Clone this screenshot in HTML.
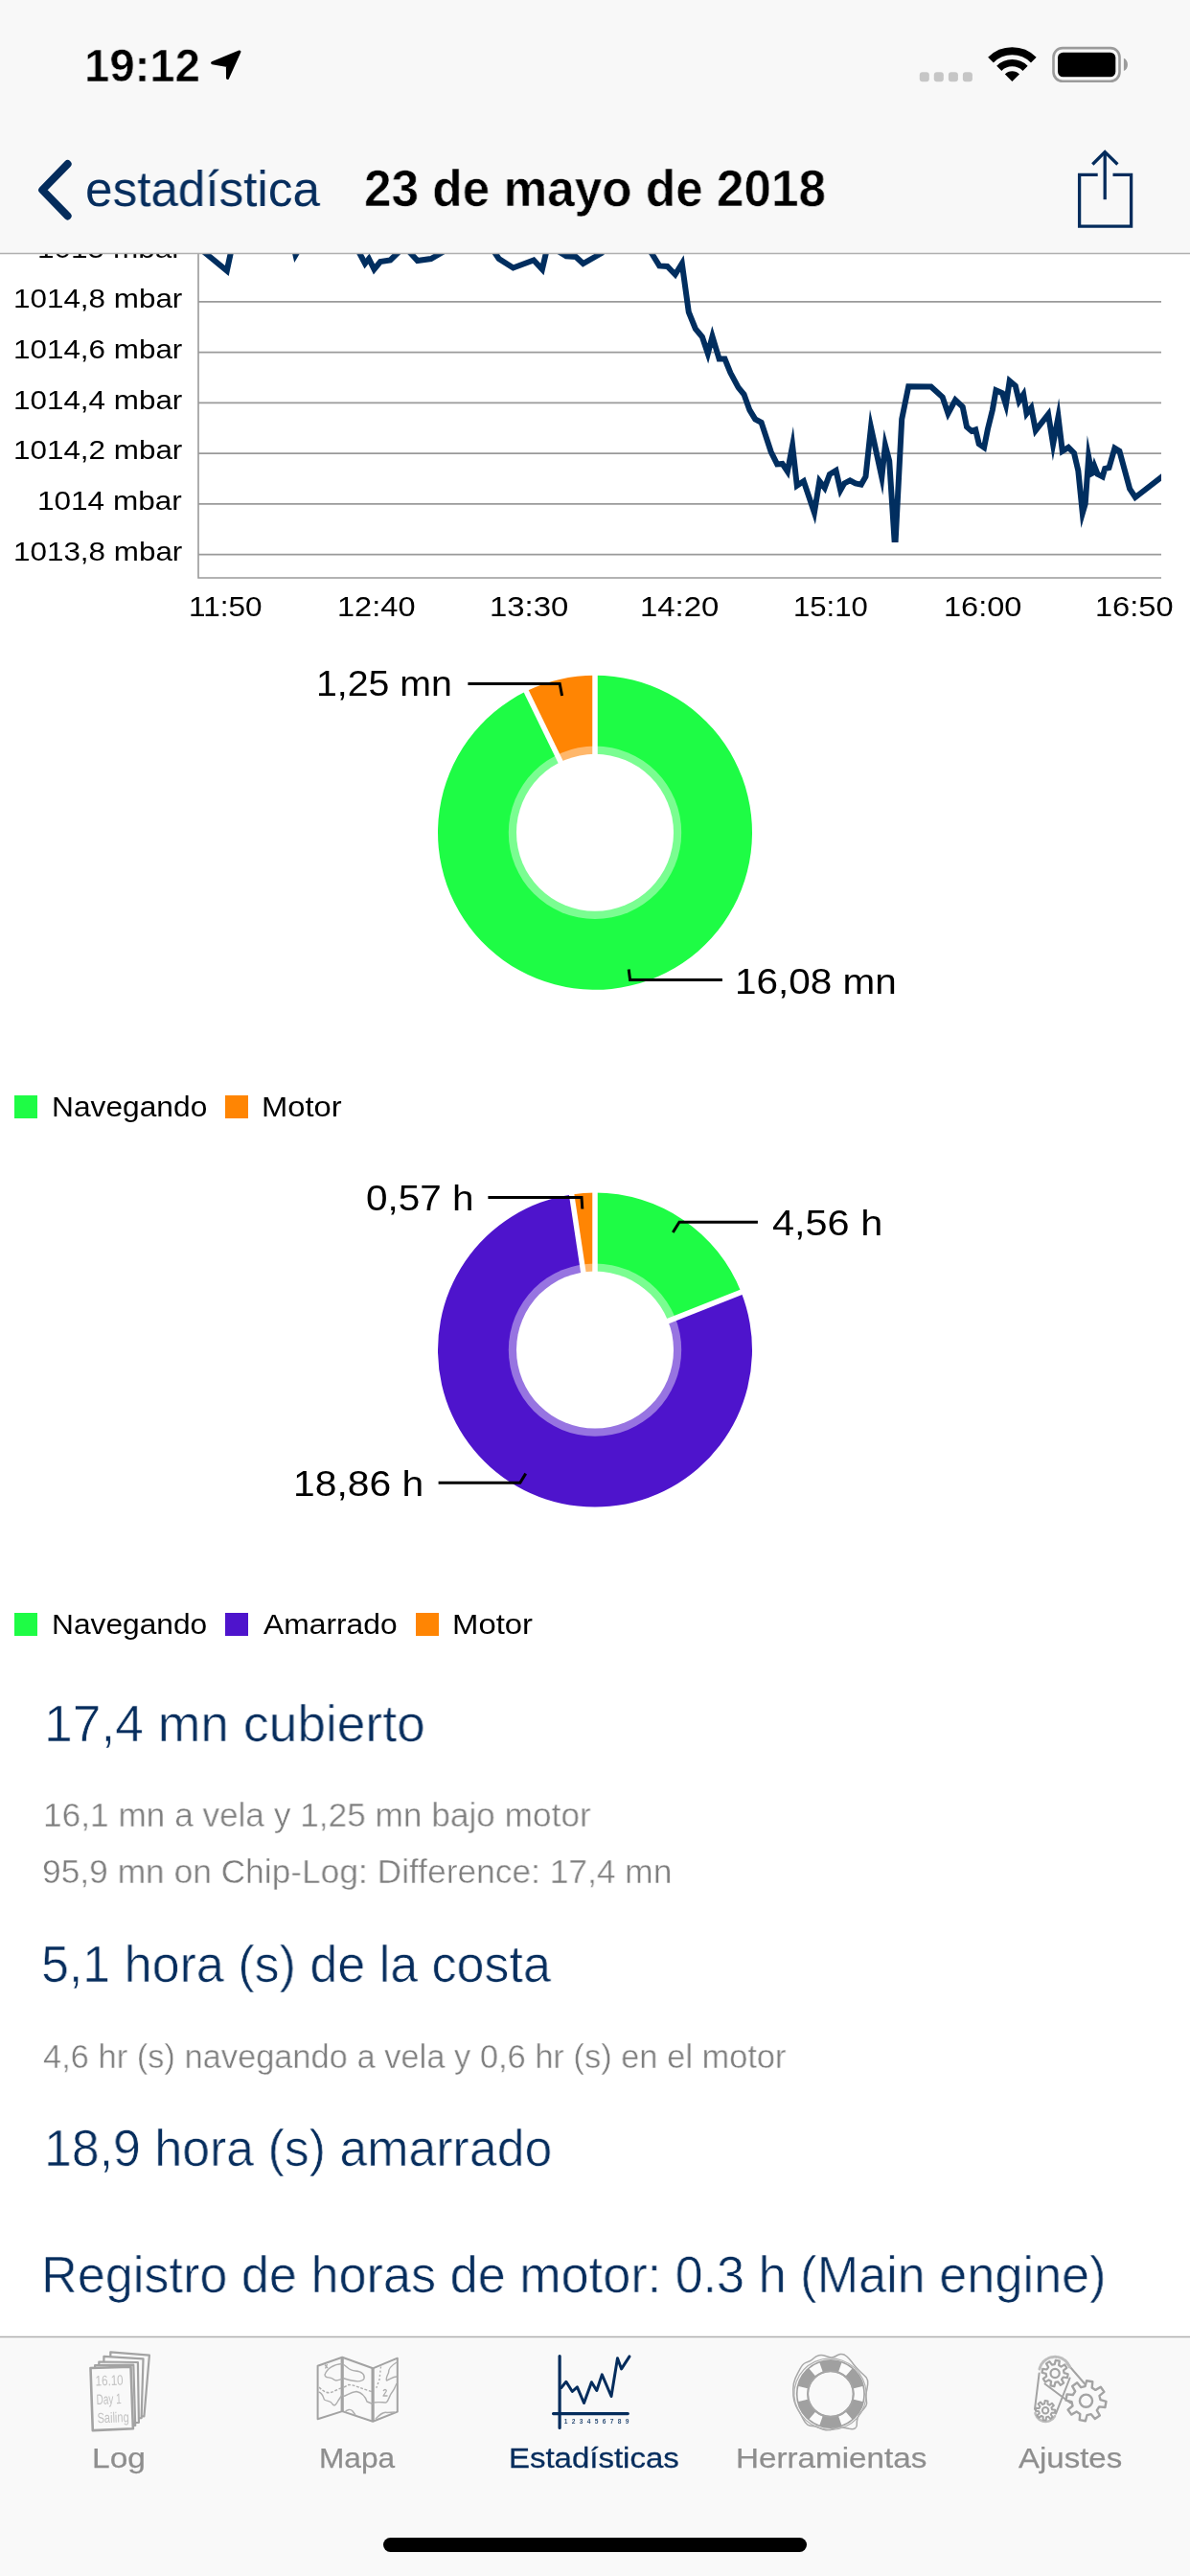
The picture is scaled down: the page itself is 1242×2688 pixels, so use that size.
<!DOCTYPE html>
<html><head><meta charset="utf-8"><title>Estadísticas</title>
<style>
html,body{margin:0;padding:0;background:#fff}
#root{position:relative;width:1242px;height:2688px;overflow:hidden;background:#fff;font-family:"Liberation Sans",sans-serif}
.abs{position:absolute;display:block}
svg.abs{will-change:transform}
.t{position:absolute;white-space:pre;line-height:1;transform-origin:0 0;will-change:transform}
.sq{position:absolute;width:24px;height:24px}
</style></head><body><div id="root">
<svg class="abs" style="left:0;top:0" width="1242" height="680" viewBox="0 0 1242 680">
<line x1="207" y1="314.9" x2="1212" y2="314.9" stroke="#9a9a9a" stroke-width="1.6"/>
<line x1="207" y1="367.6" x2="1212" y2="367.6" stroke="#9a9a9a" stroke-width="1.6"/>
<line x1="207" y1="420.4" x2="1212" y2="420.4" stroke="#9a9a9a" stroke-width="1.6"/>
<line x1="207" y1="473.1" x2="1212" y2="473.1" stroke="#9a9a9a" stroke-width="1.6"/>
<line x1="207" y1="525.9" x2="1212" y2="525.9" stroke="#9a9a9a" stroke-width="1.6"/>
<line x1="207" y1="578.6" x2="1212" y2="578.6" stroke="#9a9a9a" stroke-width="1.6"/>
<path d="M207 250V603H1212" fill="none" stroke="#9a9a9a" stroke-width="1.6"/>
<clipPath id="cc"><rect x="206" y="0" width="1006" height="680"/></clipPath>
<polyline clip-path="url(#cc)" fill="none" stroke="#012e5f" stroke-width="6" stroke-linejoin="miter" stroke-miterlimit="10" points="207,258 236.8,282.5 242.5,256 300,250 306,255 308.5,266 315,255 320,250 366,250 372,258 381,275 385,270 390.5,281 397,273 407.4,271.5 416,263 419.5,254 423,258 435.7,272 449.8,270 462,263 470,252 505,250 514,260 520.7,270 535.6,279.5 557,271.5 565.9,281 572,255 576,258 591,267.4 601,268 608.6,275 628,264 640,250 672,252 680,264 688.2,277.4 696.5,278 704.7,286.5 711.8,275 718.8,325.6 725.9,343.2 732.9,351.5 738.8,369 743.5,351 750.6,374.5 756.5,374.5 762.4,389.1 770.6,404.4 776.5,411.5 782.4,427.9 788.2,437.4 794.6,440.9 804.7,471.5 811.1,484.4 816.5,483.9 821.9,492 827.1,465 831.8,506.8 838.8,502.1 849.9,535 855.3,502.1 860.7,509.1 865.9,495 872.5,491 877.2,511.5 881.2,504.4 887.1,501.4 892.9,504.4 898.8,505.6 903.5,497.4 909,446 920.3,498 923.9,464.5 928.2,480.9 933.5,563 934.7,563 941.2,437.4 948.2,403.2 971.7,403.5 983.7,414.4 989.5,431.5 997.1,417.4 1004.7,424.5 1009.0,445.4 1014.1,449.9 1018.2,448.4 1021.7,463.1 1027.1,466.9 1030.9,447.9 1035.9,427.6 1039.5,407.3 1046.1,410.3 1049.9,422.5 1053.7,397.5 1059.8,402.7 1063.6,418.5 1068.2,411.5 1071.5,431.5 1076.3,425.5 1080.9,449.2 1094.1,432.2 1099.1,463.5 1104.5,435 1108.8,470.7 1115.1,466.9 1121.0,472.8 1125.3,491 1129.8,535.5 1132.7,525.6 1136.2,476.5 1139.7,494 1141.0,493.3 1142.5,487 1145.6,494.8 1150.7,497.4 1153.2,489 1157.5,488 1163.4,467.7 1168.4,470.7 1179.1,510.1 1184.9,519 1216,494.9"/>
</svg>
<svg class="abs" style="left:0;top:680px" width="1242" height="420" viewBox="0 680 1242 420">
<path d="M621.00 704.80A164 164 0 1 1 549.19 721.36L585.53 795.98A81 81 0 1 0 621.00 787.80Z" fill="#1efc45"/>
<path d="M549.19 721.36A164 164 0 0 1 621.00 704.80L621.00 787.80A81 81 0 0 0 585.53 795.98Z" fill="#ff8503"/>
<line x1="621" y1="868.8" x2="621.00" y2="702.80" stroke="#fff" stroke-width="5.5"/>
<line x1="621" y1="868.8" x2="548.32" y2="719.56" stroke="#fff" stroke-width="5.5"/>
<circle cx="621" cy="868.8" r="90.2" fill="#fff" fill-opacity="0.41"/>
<circle cx="621" cy="868.8" r="82" fill="#fff"/>
<polyline points="488.4,713.4 584.2,713.4 586.6,726" fill="none" stroke="#000" stroke-width="3"/>
<polyline points="753.9,1022.6 657.6,1022.6 656.2,1011.5" fill="none" stroke="#000" stroke-width="3"/>
</svg>
<svg class="abs" style="left:0;top:1210px" width="1242" height="420" viewBox="0 1210 1242 420">
<path d="M621.00 1244.60A164 164 0 0 1 773.51 1348.30L696.33 1378.82A81 81 0 0 0 621.00 1327.60Z" fill="#1efc45"/>
<path d="M773.51 1348.30A164 164 0 1 1 596.61 1246.42L608.95 1328.50A81 81 0 1 0 696.33 1378.82Z" fill="#4e14cc"/>
<path d="M596.61 1246.42A164 164 0 0 1 621.00 1244.60L621.00 1327.60A81 81 0 0 0 608.95 1328.50Z" fill="#ff8503"/>
<line x1="621" y1="1408.6" x2="621.00" y2="1242.60" stroke="#fff" stroke-width="5.5"/>
<line x1="621" y1="1408.6" x2="775.37" y2="1347.57" stroke="#fff" stroke-width="5.5"/>
<line x1="621" y1="1408.6" x2="596.31" y2="1244.45" stroke="#fff" stroke-width="5.5"/>
<circle cx="621" cy="1408.6" r="90.2" fill="#fff" fill-opacity="0.41"/>
<circle cx="621" cy="1408.6" r="82" fill="#fff"/>
<polyline points="509.4,1249.5 607,1249.5 607.8,1261.5" fill="none" stroke="#000" stroke-width="3"/>
<polyline points="790.9,1275.3 709,1275.3 702.3,1286" fill="none" stroke="#000" stroke-width="3"/>
<polyline points="457.6,1547.3 542.8,1547.3 548.7,1537.6" fill="none" stroke="#000" stroke-width="3"/>
</svg>
<div class="sq" style="left:15px;top:1143px;background:#1efc45"></div>
<div class="sq" style="left:234.5px;top:1143px;background:#ff8503"></div>
<div class="sq" style="left:15px;top:1683px;background:#1efc45"></div>
<div class="sq" style="left:234.5px;top:1683px;background:#4e14cc"></div>
<div class="sq" style="left:433.5px;top:1683px;background:#ff8503"></div>
<div class="t" style="left:39.39px;top:244.57px;font-size:28.5px;font-weight:400;color:#000;transform:scaleX(1.1060);">1015 mbar</div>
<svg class="abs" style="left:0;top:0" width="1242" height="270" viewBox="0 0 1242 270"><rect x="0" y="0" width="1242" height="264.4" fill="#f8f8f8"/><line x1="0" y1="264.4" x2="1242" y2="264.4" stroke="#b0b0b0" stroke-width="1.5"/></svg>
<svg class="abs" style="left:0;top:2430px" width="1242" height="258" viewBox="0 2430 1242 258"><rect x="0" y="2438.4" width="1242" height="250" fill="#f9f9f9"/><line x1="0" y1="2438.4" x2="1242" y2="2438.4" stroke="#b0b0b0" stroke-width="1.5"/></svg>
<div class="abs" style="left:400px;top:2648px;width:442px;height:15px;border-radius:8px;background:#000"></div>
<svg class="abs" style="left:0;top:0" width="1242" height="264" viewBox="0 0 1242 264">
<path d="M250 54L221.6 65.7L237.4 68.4L237.5 81.6Z" fill="#000" stroke="#000" stroke-width="3" stroke-linejoin="round"/>
<g fill="#c6c6c6"><rect x="959.8" y="75.2" width="10" height="10" rx="3"/><rect x="974.8" y="75.2" width="10" height="10" rx="3"/><rect x="989.9" y="75.2" width="10" height="10" rx="3"/><rect x="1004.9" y="75.2" width="10" height="10" rx="3"/></g>
<clipPath id="wf"><path d="M1056.4 85L1020 48.6V40H1093V48.6Z"/></clipPath>
<g clip-path="url(#wf)" fill="none" stroke="#000"><circle cx="1056.4" cy="85" r="31.7" stroke-width="8"/><circle cx="1056.4" cy="85" r="19.3" stroke-width="7.2"/><circle cx="1056.4" cy="85" r="10.7" fill="#000" stroke="none"/></g>
<rect x="1099.5" y="50.1" width="69" height="34.7" rx="9.5" fill="none" stroke="#9b9b9b" stroke-width="2.6"/>
<rect x="1104" y="54.7" width="60.3" height="25.6" rx="5.5" fill="#000"/>
<path d="M1172.9 60.7C1178.3 62.6 1178.3 72.2 1172.9 74Z" fill="#9b9b9b"/>
<polyline points="70.6,171.1 44.2,198.3 70.6,225.4" fill="none" stroke="#042c5c" stroke-width="8" stroke-linecap="round" stroke-linejoin="round"/>
<g fill="none" stroke="#042c5c" stroke-width="3.3"><path d="M1145.7 182.4H1126.6V236.1H1180.6V182.4H1161.5"/><path d="M1153.2 208.2V159"/><path d="M1140.3 171.5L1153.2 158.6L1166.4 171.5"/></g>
</svg>
<svg class="abs" style="left:0;top:2440px" width="1242" height="110" viewBox="0 2440 1242 110">
<g fill="#f9f9f9" stroke="#a3a3a3" stroke-width="2.2" stroke-linejoin="round">
<path d="M115.3 2454.3L155.9 2457.6L150.4 2521.3L115.3 2521Z"/>
<path d="M108.4 2458.9L149.5 2461.3L147.6 2523.2L108.4 2524Z"/>
<path d="M103.3 2464.5L143.9 2465L144.9 2527.8L103.3 2528Z"/>
<path d="M99.1 2468.2L139.3 2467.7L141.2 2531L99.1 2532Z"/>
<path d="M94.5 2471L136.5 2469.6L138.9 2534.3L96.8 2536.1Z" stroke-width="2.6"/>
</g>
<g font-family="Liberation Sans, sans-serif" font-size="15" fill="#c2c2c2" transform="rotate(-2 100 2500)"><text x="100.2" y="2489.6" textLength="29" lengthAdjust="spacingAndGlyphs">16.10</text><text x="100.5" y="2509" textLength="26" lengthAdjust="spacingAndGlyphs">Day 1</text><text x="100.8" y="2528.4" textLength="33" lengthAdjust="spacingAndGlyphs">Sailing</text></g>
<g fill="none" stroke="#a3a3a3" stroke-linejoin="round">
<path d="M331.6 2468.7L357.2 2459.7L389.1 2471.3L414.8 2460.7V2516.6L389.1 2526.7L357.2 2516.1L331.6 2524.2Z" stroke-width="2"/>
<path d="M357.2 2459.7V2516.1M389.1 2471.3V2526.7" stroke-width="3.2"/>
<g stroke-width="1.4" stroke="#aeaeae">
<path d="M357 2466.5C348 2467 341 2472 339 2478C339 2482 344 2480 347 2482C350 2485 352 2484 357 2482.5"/>
<path d="M358 2467C363 2470 364 2474 371 2474C378 2474.5 381 2478 380 2482C378 2486 370 2485.500 358 2481.500"/>
<path d="M332.500 2496C337 2497 337 2501 338.500 2504C342 2506 345 2505 347 2508.500C349 2511.500 351 2509 353 2505L357 2499"/>
<path d="M358 2500.500C362 2500 365 2496 372 2495.500C379 2497 382 2503 383 2506L389 2508.500"/>
<path d="M390 2507C395 2506 399 2507 403 2507C406 2505 406 2500 409 2496.500C412 2493 412.500 2490 414 2487"/>
<path d="M414 2465C409 2468 405 2471 405.500 2476C404 2479 402.500 2482 403.500 2484C407 2483 410 2480 414 2480"/>
<path d="M333 2491C338 2496 343 2499 350 2494.500L357 2491.500M359 2491L364 2488.500C370 2488.500 378 2493 388 2495.500" stroke-dasharray="3 1.6"/>
<path d="M397.500 2469.500L396 2483L392.500 2492.500" stroke-dasharray="2 2.2"/>
<path d="M360 2517C362 2514 366 2513.500 368 2516L371 2520M392 2524C396 2520 400 2516 404 2517.500L412 2517"/>
<path d="M339 2467.500L342 2471M341.500 2467L339.500 2471.500M400 2495C401.500 2492.500 404 2493.500 403 2495.500L400 2500H404.500" stroke-width="1.3"/>
</g></g>
<g fill="none" stroke="#042c5c" stroke-width="3.2" stroke-linecap="round" stroke-linejoin="round">
<path d="M584.1 2458.5V2533.500M577.500 2518.600H655.300"/>
<path d="M585.8 2491.500L590.9 2485.3L597.3 2495.5L602.4 2490.8L609.5 2507.5L617.4 2485.7L622.8 2494.5L628.3 2477.9L638 2500.5L644.5 2460.8L648.6 2471.9L657 2458.900" stroke-width="3"/>
</g>
<text x="588.8" y="2529" font-family="Liberation Sans, sans-serif" font-weight="700" font-size="6.6" fill="#042c5c" fill-opacity="0.85" textLength="67.5" lengthAdjust="spacing">123456789</text>
<circle cx="866.9" cy="2498.0" r="29.40" fill="none" stroke="#a0a0a0" stroke-width="13.20"/>
<path d="M900.3 2490.0A34.4 34.4 0 0 1 900.3 2506.0L891.0 2503.8A24.8 24.8 0 0 0 891.0 2492.2ZM889.2 2524.2A34.4 34.4 0 0 1 878.4 2530.4L875.2 2521.4A24.8 24.8 0 0 0 883.0 2516.9ZM855.4 2530.4A34.4 34.4 0 0 1 844.6 2524.2L850.8 2516.9A24.8 24.8 0 0 0 858.6 2521.4ZM833.5 2506.0A34.4 34.4 0 0 1 833.5 2490.0L842.8 2492.2A24.8 24.8 0 0 0 842.8 2503.8ZM844.6 2471.8A34.4 34.4 0 0 1 855.4 2465.6L858.6 2474.6A24.8 24.8 0 0 0 850.8 2479.1ZM878.4 2465.6A34.4 34.4 0 0 1 889.2 2471.8L883.0 2479.1A24.8 24.8 0 0 0 875.2 2474.6Z" fill="#fbfbfb"/>
<circle cx="866.9" cy="2498.0" r="23.8" fill="none" stroke="#a6a6a6" stroke-width="1.6"/>
<path d="M845.1 2463.8Q847.0 2463.1 849.3 2460.8Q851.6 2458.5 854.8 2457.8Q858.1 2457.1 861.8 2458.5Q865.5 2459.9 867.8 2459.9Q870.1 2459.9 872.4 2458.5Q874.7 2457.1 877.0 2456.6Q879.3 2456.2 881.6 2457.3Q883.9 2458.5 886.2 2461.3Q888.6 2464.0 890.9 2467.3Q893.2 2470.5 897.8 2474.7Q902.4 2478.8 904.3 2481.1Q906.1 2483.4 905.7 2487.6Q905.2 2491.8 904.3 2495.9Q903.3 2500.1 904.3 2504.2Q905.2 2508.4 903.8 2510.7Q902.4 2513.0 899.2 2516.2Q896.0 2519.5 895.0 2523.2Q894.1 2526.9 894.3 2529.6Q894.6 2532.4 892.5 2533.8Q890.4 2535.2 886.2 2534.3Q882.1 2533.3 878.4 2532.9Q874.7 2532.4 870.1 2534.3Q865.5 2536.1 861.8 2535.7Q858.1 2535.2 854.8 2533.3Q851.6 2531.5 848.4 2531.5Q845.1 2531.5 842.8 2530.1Q840.5 2528.7 838.2 2524.1Q835.9 2519.5 833.1 2514.9Q830.3 2510.2 828.9 2505.2Q827.6 2500.1 827.8 2493.1Q828.0 2486.2 830.1 2481.6Q832.2 2477.0 835.0 2471.9Q837.7 2466.8 840.5 2465.6Q843.3 2464.5 845.1 2463.8Z" fill="none" stroke="#a8a8a8" stroke-width="1.5"/>
<ellipse cx="866.6" cy="2498.3" rx="37.6" ry="37.2" fill="none" stroke="#b0b0b0" stroke-width="1.2" transform="rotate(20 866.9 2498.0)"/>
<g fill="none" stroke="#a3a3a3" stroke-width="2.2" stroke-linejoin="round" stroke-linecap="round">
<path d="M1084.6 2476.5L1080 2513.9M1116.6 2481.500L1102 2518.600M1113.500 2466L1133 2488.500M1090.500 2487.500L1117.300 2507.500" stroke-width="2"/>
<path d="M1085 2472A16.5 16.5 0 0 1 1116.500 2470" stroke-width="3" stroke="#bdbdbd" stroke-dasharray="2.2 1.4"/>
<path d="M1080.500 2518A11 11 0 0 0 1101 2521" stroke-width="2.6" stroke="#bdbdbd" stroke-dasharray="2.2 1.4"/>
<path d="M1110.5 2476.1 L1114.7 2477.2 L1113.9 2481.2 L1109.6 2480.5 L1108.0 2482.9 L1110.2 2486.6 L1106.8 2488.8 L1104.3 2485.4 L1101.5 2485.9 L1100.4 2490.1 L1096.4 2489.3 L1097.1 2485.0 L1094.7 2483.4 L1091.0 2485.6 L1088.8 2482.2 L1092.2 2479.7 L1091.7 2476.9 L1087.5 2475.8 L1088.3 2471.8 L1092.6 2472.5 L1094.2 2470.1 L1092.0 2466.4 L1095.4 2464.2 L1097.9 2467.6 L1100.7 2467.1 L1101.8 2462.9 L1105.8 2463.7 L1105.1 2468.0 L1107.5 2469.6 L1111.2 2467.4 L1113.4 2470.8 L1110.0 2473.3Z"/><circle cx="1101.1" cy="2476.5" r="4.600"/>
<path d="M1098.0 2514.3 L1101.3 2514.8 L1101.0 2517.8 L1097.7 2517.7 L1096.7 2519.5 L1098.7 2522.1 L1096.3 2524.1 L1094.1 2521.6 L1092.1 2522.2 L1091.6 2525.5 L1088.6 2525.2 L1088.7 2521.9 L1086.9 2520.9 L1084.3 2522.9 L1082.3 2520.5 L1084.8 2518.3 L1084.2 2516.3 L1080.9 2515.8 L1081.2 2512.8 L1084.5 2512.9 L1085.5 2511.1 L1083.5 2508.5 L1085.9 2506.5 L1088.1 2509.0 L1090.1 2508.4 L1090.6 2505.1 L1093.6 2505.4 L1093.5 2508.7 L1095.3 2509.7 L1097.9 2507.7 L1099.9 2510.1 L1097.4 2512.3Z" stroke-width="2"/><circle cx="1091.1" cy="2515.3" r="3.200" stroke-width="2"/>
<path d="M1148.5 2504.2 L1154.5 2505.8 L1153.4 2512.0 L1147.2 2511.4 L1144.8 2515.1 L1147.9 2520.5 L1142.8 2524.1 L1138.8 2519.2 L1134.5 2520.2 L1132.9 2526.2 L1126.7 2525.1 L1127.3 2518.9 L1123.6 2516.5 L1118.2 2519.6 L1114.6 2514.5 L1119.5 2510.5 L1118.5 2506.2 L1112.5 2504.6 L1113.6 2498.4 L1119.8 2499.0 L1122.2 2495.3 L1119.1 2489.9 L1124.2 2486.3 L1128.2 2491.2 L1132.5 2490.2 L1134.1 2484.2 L1140.3 2485.3 L1139.7 2491.5 L1143.4 2493.9 L1148.8 2490.8 L1152.4 2495.9 L1147.5 2499.9Z" stroke-width="2.400"/><circle cx="1133.5" cy="2505.2" r="6.600" stroke-width="2.400"/>
</g>
</svg>
<div class="t" style="left:88.27px;top:43.64px;font-size:48.5px;font-weight:700;color:#000;transform:scaleX(0.9756);-webkit-text-stroke:0.6px #f8f8f8;">19:12</div>
<div class="t" style="left:88.91px;top:172.11px;font-size:51.5px;font-weight:400;color:#062d5d;transform:scaleX(0.9951);">estadística</div>
<div class="t" style="left:379.98px;top:170.31px;font-size:53.5px;font-weight:700;color:#000;transform:scaleX(0.9592);-webkit-text-stroke:0.6px #f8f8f8;">23 de mayo de 2018</div>
<div class="t" style="left:13.50px;top:297.27px;font-size:28.5px;font-weight:400;color:#000;transform:scaleX(1.1019);">1014,8 mbar</div>
<div class="t" style="left:13.50px;top:349.97px;font-size:28.5px;font-weight:400;color:#000;transform:scaleX(1.1019);">1014,6 mbar</div>
<div class="t" style="left:13.50px;top:402.77px;font-size:28.5px;font-weight:400;color:#000;transform:scaleX(1.1019);">1014,4 mbar</div>
<div class="t" style="left:13.50px;top:455.47px;font-size:28.5px;font-weight:400;color:#000;transform:scaleX(1.1019);">1014,2 mbar</div>
<div class="t" style="left:39.39px;top:508.27px;font-size:28.5px;font-weight:400;color:#000;transform:scaleX(1.1060);">1014 mbar</div>
<div class="t" style="left:13.50px;top:560.97px;font-size:28.5px;font-weight:400;color:#000;transform:scaleX(1.1019);">1013,8 mbar</div>
<div class="t" style="left:196.90px;top:619.39px;font-size:28.6px;font-weight:400;color:#000;transform:scaleX(1.1015);">11:50</div>
<div class="t" style="left:351.72px;top:619.39px;font-size:28.6px;font-weight:400;color:#000;transform:scaleX(1.1391);">12:40</div>
<div class="t" style="left:510.60px;top:619.39px;font-size:28.6px;font-weight:400;color:#000;transform:scaleX(1.1507);">13:30</div>
<div class="t" style="left:667.70px;top:619.39px;font-size:28.6px;font-weight:400;color:#000;transform:scaleX(1.1507);">14:20</div>
<div class="t" style="left:827.53px;top:619.39px;font-size:28.6px;font-weight:400;color:#000;transform:scaleX(1.0870);">15:10</div>
<div class="t" style="left:985.42px;top:619.39px;font-size:28.6px;font-weight:400;color:#000;transform:scaleX(1.1377);">16:00</div>
<div class="t" style="left:1143.32px;top:619.39px;font-size:28.6px;font-weight:400;color:#000;transform:scaleX(1.1391);">16:50</div>
<div class="t" style="left:329.96px;top:695.47px;font-size:37.6px;font-weight:400;color:#000;transform:scaleX(1.0450);">1,25 mn</div>
<div class="t" style="left:767.37px;top:1005.57px;font-size:37.6px;font-weight:400;color:#000;transform:scaleX(1.0768);">16,08 mn</div>
<div class="t" style="left:53.80px;top:1140.34px;font-size:30.2px;font-weight:400;color:#000;transform:scaleX(1.0510);">Navegando</div>
<div class="t" style="left:273.13px;top:1140.34px;font-size:30.2px;font-weight:400;color:#000;transform:scaleX(1.0853);">Motor</div>
<div class="t" style="left:382.02px;top:1232.27px;font-size:37.6px;font-weight:400;color:#000;transform:scaleX(1.0762);">0,57 h</div>
<div class="t" style="left:805.70px;top:1258.07px;font-size:37.6px;font-weight:400;color:#000;transform:scaleX(1.1030);">4,56 h</div>
<div class="t" style="left:306.44px;top:1529.77px;font-size:37.6px;font-weight:400;color:#000;transform:scaleX(1.0858);">18,86 h</div>
<div class="t" style="left:53.80px;top:1680.34px;font-size:30.2px;font-weight:400;color:#000;transform:scaleX(1.0503);">Navegando</div>
<div class="t" style="left:275.00px;top:1680.34px;font-size:30.2px;font-weight:400;color:#000;transform:scaleX(1.0534);">Amarrado</div>
<div class="t" style="left:471.52px;top:1680.34px;font-size:30.2px;font-weight:400;color:#000;transform:scaleX(1.0893);">Motor</div>
<div class="t" style="left:45.91px;top:1771.51px;font-size:53.5px;font-weight:400;color:#062d5d;transform:scaleX(0.9982);-webkit-text-stroke:0.7px #fff;">17,4 mn cubierto</div>
<div class="t" style="left:44.62px;top:1876.55px;font-size:35.5px;font-weight:400;color:#7d7d7d;transform:scaleX(0.9921);-webkit-text-stroke:0.45px #fff;">16,1 mn a vela y 1,25 mn bajo motor</div>
<div class="t" style="left:44.41px;top:1936.35px;font-size:35.5px;font-weight:400;color:#7d7d7d;transform:scaleX(0.9953);-webkit-text-stroke:0.45px #fff;">95,9 mn on Chip-Log: Difference: 17,4 mn</div>
<div class="t" style="left:43.48px;top:2023.21px;font-size:53.5px;font-weight:400;color:#062d5d;transform:scaleX(0.9719);-webkit-text-stroke:0.7px #fff;">5,1 hora (s) de la costa</div>
<div class="t" style="left:44.63px;top:2128.65px;font-size:35.5px;font-weight:400;color:#7d7d7d;transform:scaleX(0.9704);-webkit-text-stroke:0.45px #fff;">4,6 hr (s) navegando a vela y 0,6 hr (s) en el motor</div>
<div class="t" style="left:45.82px;top:2215.01px;font-size:53.5px;font-weight:400;color:#062d5d;transform:scaleX(0.9691);-webkit-text-stroke:0.7px #fff;">18,9 hora (s) amarrado</div>
<div class="t" style="left:43.32px;top:2346.51px;font-size:53.5px;font-weight:400;color:#062d5d;transform:scaleX(0.9758);-webkit-text-stroke:0.7px #fff;">Registro de horas de motor: 0.3 h (Main engine)</div>
<div class="t" style="left:96.47px;top:2550.11px;font-size:30px;font-weight:400;color:#8e8e8e;transform:scaleX(1.1174);-webkit-text-stroke:0.25px #8e8e8e;">Log</div>
<div class="t" style="left:332.89px;top:2550.11px;font-size:30px;font-weight:400;color:#8e8e8e;transform:scaleX(1.0534);-webkit-text-stroke:0.25px #8e8e8e;">Mapa</div>
<div class="t" style="left:531.30px;top:2550.11px;font-size:30px;font-weight:400;color:#062d5d;transform:scaleX(1.0987);-webkit-text-stroke:0.3px #062d5d;">Estadísticas</div>
<div class="t" style="left:768.29px;top:2550.11px;font-size:30px;font-weight:400;color:#8e8e8e;transform:scaleX(1.1073);-webkit-text-stroke:0.25px #8e8e8e;">Herramientas</div>
<div class="t" style="left:1062.90px;top:2550.11px;font-size:30px;font-weight:400;color:#8e8e8e;transform:scaleX(1.1000);-webkit-text-stroke:0.25px #8e8e8e;">Ajustes</div>
</div></body></html>
